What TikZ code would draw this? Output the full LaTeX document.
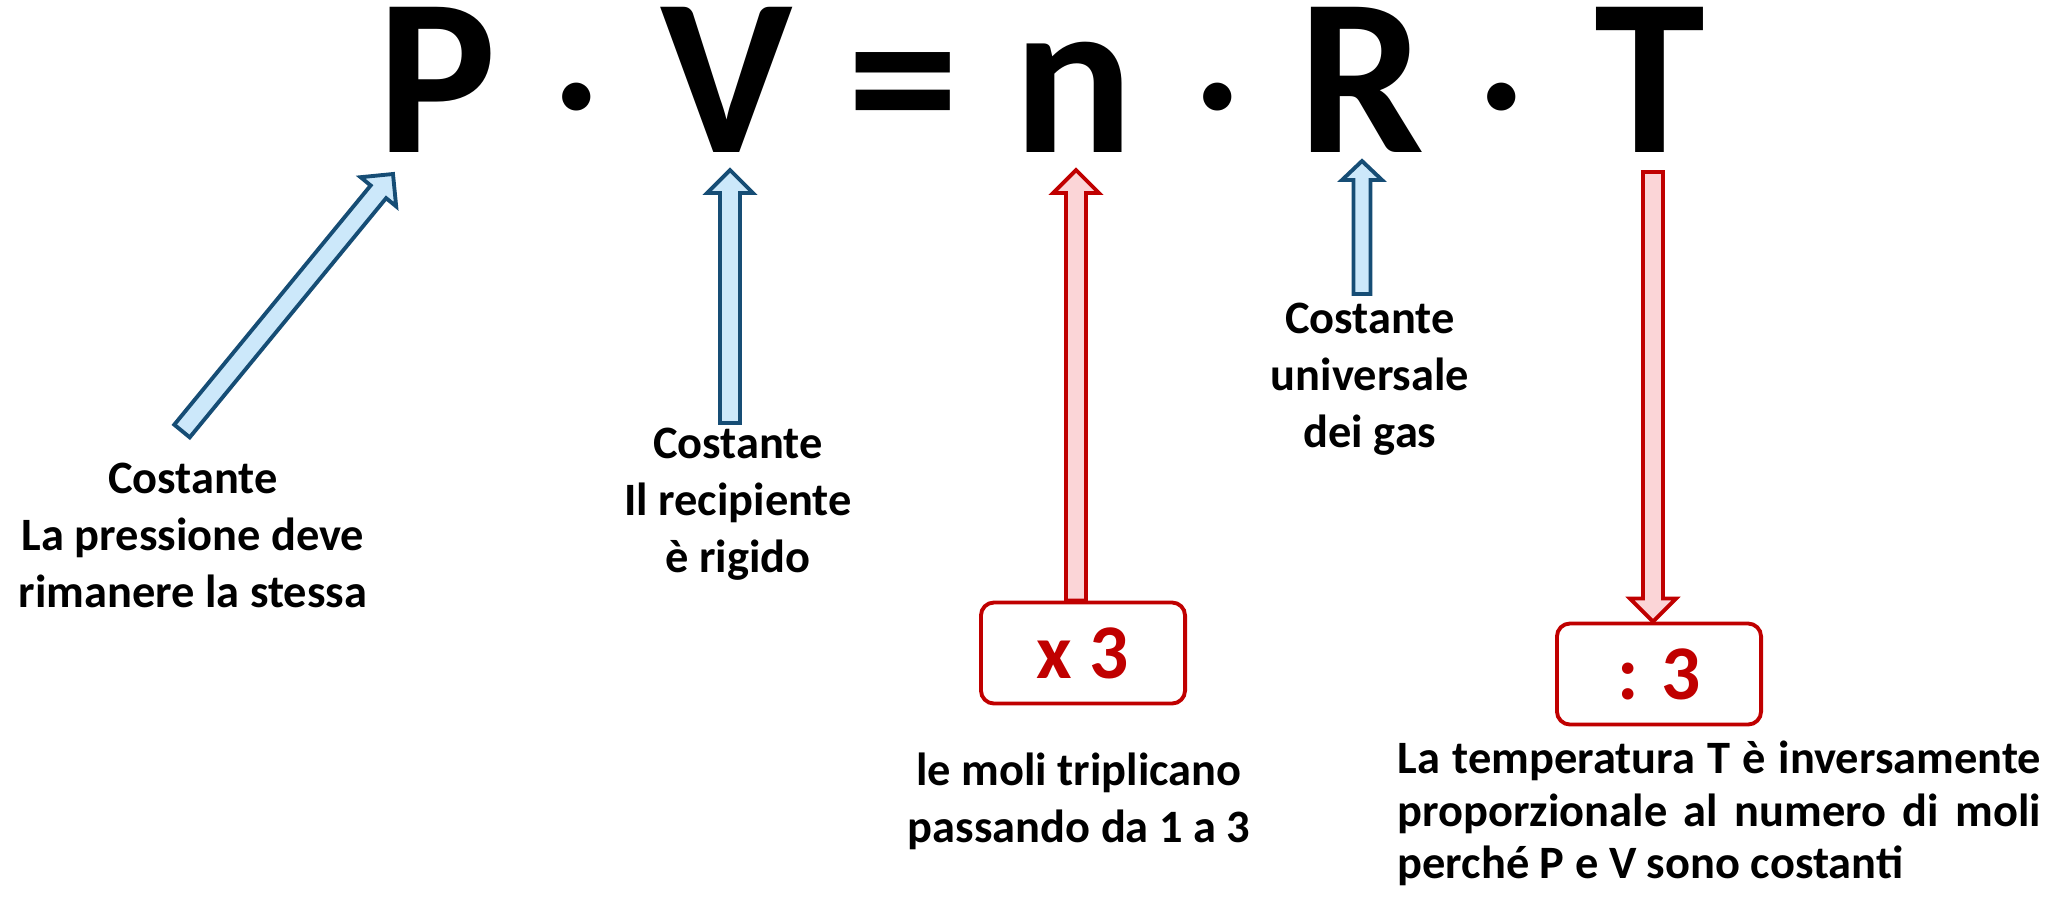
\documentclass[tikz,border=0pt]{standalone}
\usepackage{fontspec}
\setmainfont{Carlito}
\usetikzlibrary{calc}
\definecolor{arrowblue}{RGB}{22,77,117}
\definecolor{fillblue}{RGB}{204,232,250}
\definecolor{arrowred}{RGB}{192,0,0}
\definecolor{fillred}{RGB}{251,213,215}
\newcommand{\eqfont}{\bfseries\fontsize{63.7}{70}\selectfont}
\newcommand{\labfont}{\bfseries\fontsize{13.2}{16.2}\selectfont}
\newcommand{\blockarrow}[6]{%
\coordinate (ahb) at ($(#3)!#6!(#2)$);
\draw[#1] ($(#2)!#4!90:(#3)$) -- ($(ahb)!#4!-90:(#2)$) -- ($(ahb)!#5!-90:(#2)$) -- (#3) -- ($(ahb)!#5!90:(#2)$) -- ($(ahb)!#4!90:(#2)$) -- ($(#2)!#4!-90:(#3)$) -- cycle;}
\begin{document}
\begin{tikzpicture}[x=0.01cm, y=-0.01cm,
letter/.style={inner sep=0, anchor=base, text height=1.42cm, text depth=0pt, font=\eqfont},
middot/.style={inner sep=0, anchor=base, text height=0.5cm, text depth=0pt, font=\bfseries\fontsize{43}{50}\selectfont},
lab/.style={inner sep=0, anchor=north, align=center, font=\labfont},
bluearrow/.style={draw=arrowblue, fill=fillblue, line width=1.1pt},
redarrow/.style={draw=arrowred, fill=fillred, line width=1.1pt},
factor/.style={draw=arrowred, line width=1.1pt, rounded corners=0.13cm, minimum width=2.04cm, minimum height=1.01cm, inner sep=0, text=arrowred, font=\bfseries\fontsize{22}{24}\selectfont}]
\useasboundingbox (0,0) rectangle (2048,899);
\node[letter] (lP) at (437,152) {P};
\node[middot] (dot1) at (577,139) {·};
\node[letter] (lV) at (727,152) {V};
\node[letter] (eq) at (903,152) {=};
\node[letter] (ln) at (1074,152) {n};
\node[middot] (dot2) at (1218,139) {·};
\node[letter] (lR) at (1362,152) {R};
\node[middot] (dot3) at (1502,139) {·};
\node[letter] (lT) at (1650,152) {T};
\node[lab] (Plab) at (193,462) {Costante\\La pressione deve\\rimanere la stessa};
\node[lab] (Vlab) at (738,427) {Costante\\Il recipiente\\è rigido};
\node[lab] (Rlab) at (1370,302) {Costante\\universale\\dei gas};
\node[factor] (nbox) at (1083,653) {x 3};
\node[factor] (Tbox) at (1659,674) {: 3};
\node[lab] (nlab) at (1079,752) {le moli triplicano\\passando da 1 a 3};
\node[lab, anchor=north west, text width=6.43cm, align=justify, font=\bfseries\fontsize{13.2}{15}\selectfont] (Tlab) at (1397,740) {La temperatura T è inversamente\linebreak proporzionale al numero di moli\linebreak perché P e V sono costanti};
\coordinate (Pfrom) at ($(Plab.north)+(-11,-31)$);
\coordinate (Pto) at ($(lP.base)+(-44,22)$);
\blockarrow{bluearrow}{Pfrom}{Pto}{0.10cm}{0.23cm}{0.23cm}
\coordinate (Vfrom) at ($(Vlab.north)+(-8,-4)$);
\coordinate (Vto) at ($(lV.base)+(3,18)$);
\blockarrow{bluearrow}{Vfrom}{Vto}{0.10cm}{0.23cm}{0.23cm}
\coordinate (nto) at ($(ln.base)+(2,18)$);
\coordinate (nfrom) at (nto |- nbox.north);
\blockarrow{redarrow}{nfrom}{nto}{0.10cm}{0.23cm}{0.23cm}
\coordinate (Rfrom) at ($(Rlab.north)+(-8,-8)$);
\coordinate (Rto) at ($(lR.base)+(0,9)$);
\blockarrow{bluearrow}{Rfrom}{Rto}{0.085cm}{0.20cm}{0.19cm}
\coordinate (Tfrom) at ($(lT.base)+(3,20)$);
\coordinate (Tto) at (Tfrom |- Tbox.north);
\blockarrow{redarrow}{Tfrom}{Tto}{0.10cm}{0.23cm}{0.23cm}
\end{tikzpicture}
\end{document}
